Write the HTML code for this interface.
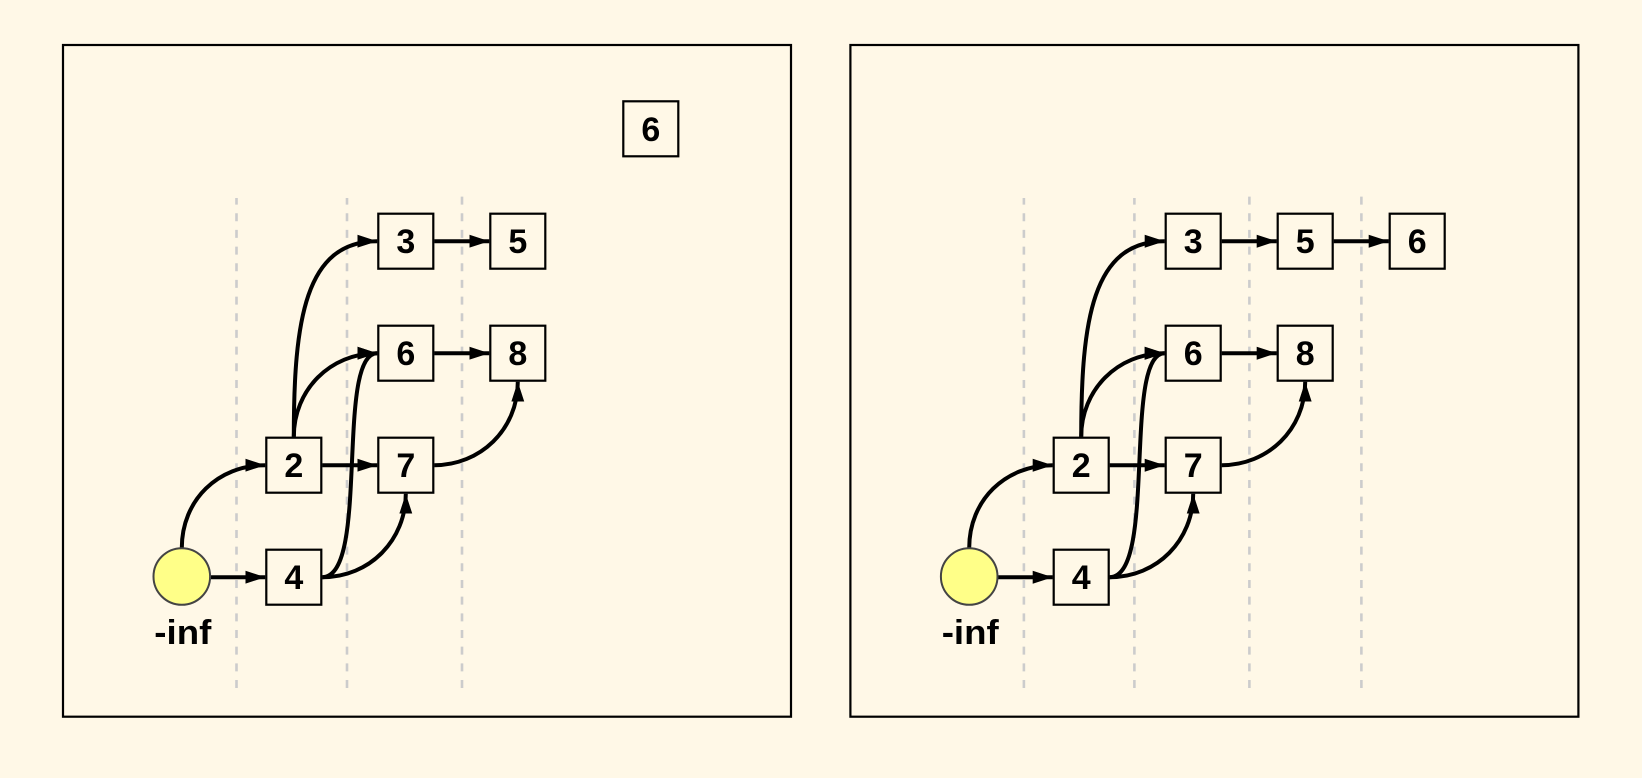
<!DOCTYPE html>
<html>
<head>
<meta charset="utf-8">
<style>
  html, body { margin: 0; padding: 0; background: #fff8e7; }
  body { width: 1642px; height: 778px; overflow: hidden; }
  svg { display: block; }
  text { font-family: "Liberation Sans", sans-serif; font-size: 34px; font-weight: bold; fill: #000; }
</style>
</head>
<body>
<svg width="1642" height="778" viewBox="0 0 1642 778" xmlns="http://www.w3.org/2000/svg">
  <defs>
    <marker id="ah" markerUnits="userSpaceOnUse" markerWidth="24" markerHeight="16" refX="20" refY="6.5" orient="auto">
      <path d="M0,0 L20,6.5 L0,13 z" fill="#000"/>
    </marker>
  </defs>
  <rect x="0" y="0" width="1642" height="778" fill="#fff8e7"/>

  <!-- LEFT PANEL -->
  <g>
    <rect x="63" y="45" width="728" height="671.7" fill="none" stroke="#000" stroke-width="2.2"/>
    <g stroke="#cccccc" stroke-width="2.6" stroke-dasharray="8 8.67" fill="none">
      <path d="M236.5,688 L236.5,198"/>
      <path d="M347,688 L347,198"/>
      <path d="M462,688 L462,192"/>
    </g>
    <rect x="623.3" y="101.3" width="55" height="55" fill="none" stroke="#000" stroke-width="2.2"/>
    <text x="650.8" y="141" text-anchor="middle">6</text>

    <g fill="none" stroke="#000" stroke-width="4" marker-end="url(#ah)">
      <path d="M181.8,548 C181.8,500 218,465.2 265.3,465.2"/>
      <path d="M210,577.2 L265.3,577.2"/>
      <path d="M322.3,465.2 L377.3,465.2"/>
      <path d="M293.8,436.7 C293.8,320 305,241.2 377.3,241.2"/>
      <path d="M293.8,436.7 C293.8,390 330,353.2 377.3,353.2"/>
      <path d="M322.3,577.2 C370,577.2 335,353.2 377.3,353.2"/>
      <path d="M322.3,577.2 C370,577.2 405.8,540 405.8,493.7"/>
      <path d="M434.3,465.2 C480,465.2 517.8,430 517.8,381.7"/>
      <path d="M434.3,241.2 L489.3,241.2"/>
      <path d="M434.3,353.2 L489.3,353.2"/>
    </g>
    <circle cx="181.8" cy="576.5" r="28.3" fill="#ffff88" stroke="#444" stroke-width="2"/>
    <text x="182.8" y="644" text-anchor="middle" textLength="57" lengthAdjust="spacingAndGlyphs">-inf</text>
    <g fill="none" stroke="#000" stroke-width="2.2">
      <rect x="266.3" y="437.7" width="55" height="55"/>
      <rect x="266.3" y="549.7" width="55" height="55"/>
      <rect x="378.3" y="213.7" width="55" height="55"/>
      <rect x="378.3" y="325.7" width="55" height="55"/>
      <rect x="378.3" y="437.7" width="55" height="55"/>
      <rect x="490.3" y="213.7" width="55" height="55"/>
      <rect x="490.3" y="325.7" width="55" height="55"/>
    </g>
    <text x="293.8" y="477" text-anchor="middle">2</text>
    <text x="293.8" y="589" text-anchor="middle">4</text>
    <text x="405.8" y="253" text-anchor="middle">3</text>
    <text x="405.8" y="365" text-anchor="middle">6</text>
    <text x="405.8" y="477" text-anchor="middle">7</text>
    <text x="517.8" y="253" text-anchor="middle">5</text>
    <text x="517.8" y="365" text-anchor="middle">8</text>
  </g>

  <!-- RIGHT PANEL -->
  <g transform="translate(787.4,0)">
    <rect x="63" y="45" width="728" height="671.7" fill="none" stroke="#000" stroke-width="2.2"/>
    <g stroke="#cccccc" stroke-width="2.6" stroke-dasharray="8 8.67" fill="none">
      <path d="M236.5,688 L236.5,198"/>
      <path d="M347,688 L347,198"/>
      <path d="M462,688 L462,192"/>
      <path d="M574,688 L574,192"/>
    </g>
    <g fill="none" stroke="#000" stroke-width="4" marker-end="url(#ah)">
      <path d="M181.8,548 C181.8,500 218,465.2 265.3,465.2"/>
      <path d="M210,577.2 L265.3,577.2"/>
      <path d="M322.3,465.2 L377.3,465.2"/>
      <path d="M293.8,436.7 C293.8,320 305,241.2 377.3,241.2"/>
      <path d="M293.8,436.7 C293.8,390 330,353.2 377.3,353.2"/>
      <path d="M322.3,577.2 C370,577.2 335,353.2 377.3,353.2"/>
      <path d="M322.3,577.2 C370,577.2 405.8,540 405.8,493.7"/>
      <path d="M434.3,465.2 C480,465.2 517.8,430 517.8,381.7"/>
      <path d="M434.3,241.2 L489.3,241.2"/>
      <path d="M434.3,353.2 L489.3,353.2"/>
      <path d="M546.3,241.2 L601.3,241.2"/>
    </g>
    <circle cx="181.8" cy="576.5" r="28.3" fill="#ffff88" stroke="#444" stroke-width="2"/>
    <text x="182.8" y="644" text-anchor="middle" textLength="57" lengthAdjust="spacingAndGlyphs">-inf</text>
    <g fill="none" stroke="#000" stroke-width="2.2">
      <rect x="266.3" y="437.7" width="55" height="55"/>
      <rect x="266.3" y="549.7" width="55" height="55"/>
      <rect x="378.3" y="213.7" width="55" height="55"/>
      <rect x="378.3" y="325.7" width="55" height="55"/>
      <rect x="378.3" y="437.7" width="55" height="55"/>
      <rect x="490.3" y="213.7" width="55" height="55"/>
      <rect x="490.3" y="325.7" width="55" height="55"/>
      <rect x="602.3" y="213.7" width="55" height="55"/>
    </g>
    <text x="293.8" y="477" text-anchor="middle">2</text>
    <text x="293.8" y="589" text-anchor="middle">4</text>
    <text x="405.8" y="253" text-anchor="middle">3</text>
    <text x="405.8" y="365" text-anchor="middle">6</text>
    <text x="405.8" y="477" text-anchor="middle">7</text>
    <text x="517.8" y="253" text-anchor="middle">5</text>
    <text x="517.8" y="365" text-anchor="middle">8</text>
    <text x="629.8" y="253" text-anchor="middle">6</text>
  </g>
</svg>
</body>
</html>
